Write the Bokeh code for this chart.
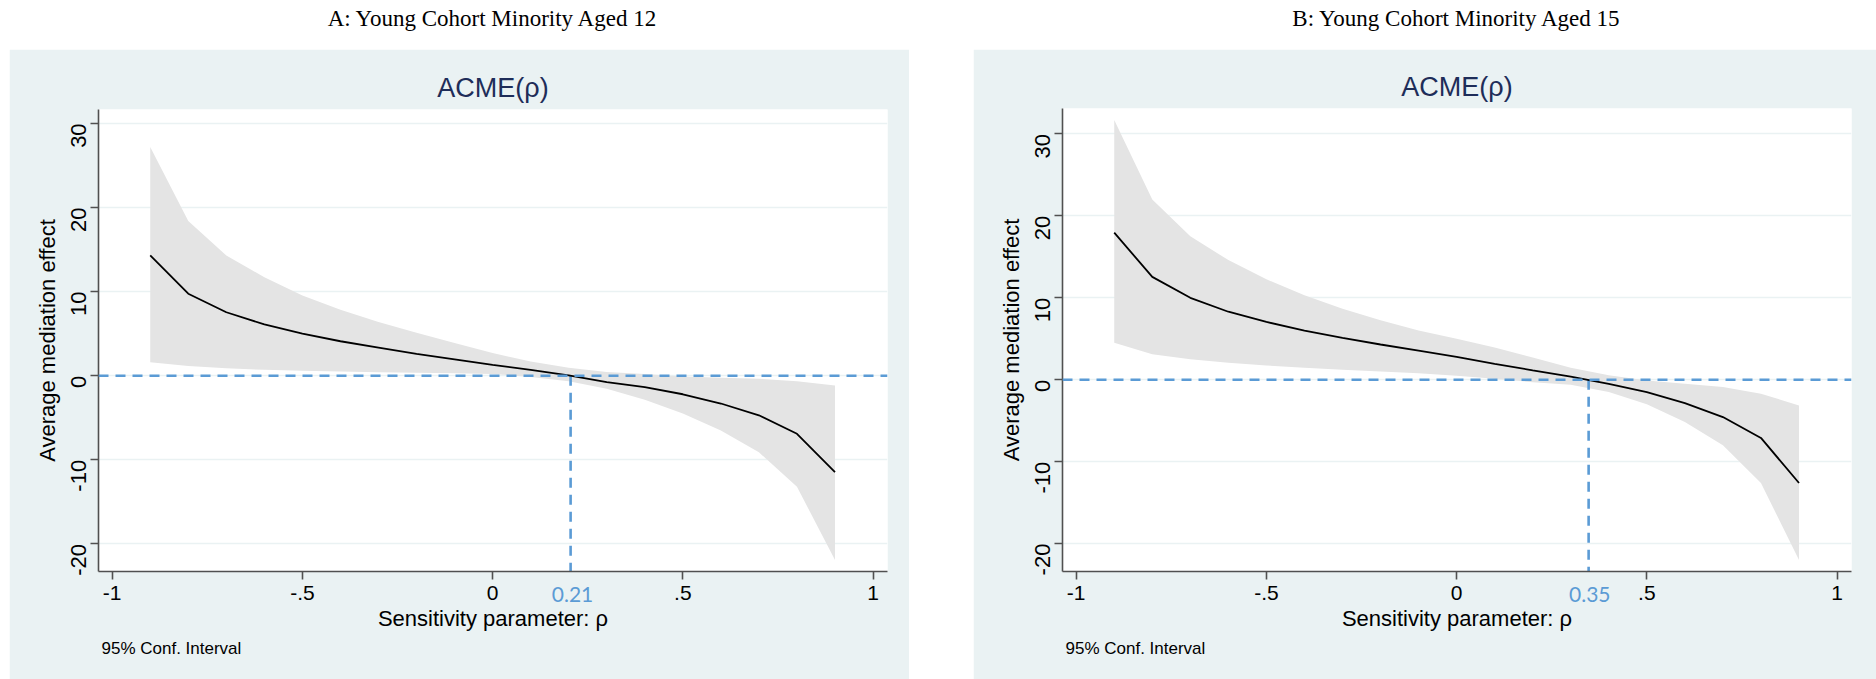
import math
from bokeh.plotting import figure
from bokeh.models import Span, Title, Label, FixedTicker, Range1d, Spacer, CustomJSTickFormatter, LinearAxis
from bokeh.layouts import row, column
from bokeh.embed import file_html
from bokeh.resources import INLINE

# ---------------- data ----------------
rho = [-0.9, -0.8, -0.7, -0.6, -0.5, -0.4, -0.3, -0.2, -0.1, 0.0,
       0.1, 0.2, 0.3, 0.4, 0.5, 0.6, 0.7, 0.8, 0.9]

acme_a = [14.3, 9.75, 7.55, 6.1, 5.0, 4.1, 3.35, 2.6, 1.95, 1.3,
          0.7, 0.05, -0.75, -1.35, -2.2, -3.3, -4.7, -6.9, -11.45]
upper_a = [27.2, 18.4, 14.3, 11.7, 9.55, 7.85, 6.4, 5.1, 3.9, 2.7,
           1.7, 0.95, 0.45, 0.2, -0.08, -0.24, -0.36, -0.64, -1.15]
lower_a = [1.6, 1.15, 0.9, 0.7, 0.6, 0.5, 0.42, 0.35, 0.3, 0.22,
           -0.15, -0.65, -1.55, -2.85, -4.5, -6.5, -9.1, -13.2, -21.9]

acme_b = [17.95, 12.55, 10.0, 8.3, 7.05, 6.0, 5.1, 4.3, 3.55, 2.8,
          1.95, 1.15, 0.37, -0.5, -1.5, -2.85, -4.55, -7.1, -12.6]
upper_b = [31.7, 22.0, 17.5, 14.6, 12.25, 10.3, 8.65, 7.25, 6.0, 5.0,
           3.95, 2.7, 1.45, 0.55, -0.1, -0.5, -0.9, -1.7, -3.15]
lower_b = [4.5, 3.1, 2.5, 2.07, 1.75, 1.46, 1.22, 1.0, 0.8, 0.5,
           0.12, -0.3, -0.62, -1.5, -3.0, -5.15, -8.0, -12.6, -22.0]

cross_a = 0.205
cross_b = 0.347
cross_label_a = "0.21"
cross_label_b = "0.35"

panel_titles = ["A: Young Cohort Minority Aged 12", "B: Young Cohort Minority Aged 15"]
plot_title = "ACME(\u03c1)"
x_title = "Sensitivity parameter: \u03c1"
y_title = "Average mediation effect"
note = "95% Conf. Interval"

x_ticks = [-1, -0.5, 0, 0.5, 1]
y_ticks = [-20, -10, 0, 10, 20, 30]

# ---------------- styles ----------------
BOX = "#EAF2F3"
BAND = "#E4E4E4"
DASH = "#5B9BD5"
AXIS = "#505050"
SANS = "Liberation Sans"
TITLE_H = 49
PANEL_H = 630


def title_fig(text, mbl, fw, mbr, cx):
    t = figure(frame_width=fw, frame_height=TITLE_H, x_range=Range1d(0, fw), y_range=Range1d(0, TITLE_H),
               min_border_left=mbl, min_border_right=mbr, min_border_top=0, min_border_bottom=0,
               x_axis_type=None, y_axis_type=None, toolbar_location=None,
               output_backend="svg", outline_line_color=None,
               background_fill_color="white", border_fill_color="white")
    t.grid.visible = False
    t.add_layout(Label(x=cx, y=31, text=text, text_align="center", text_baseline="alphabetic",
                       text_font="Liberation Serif", text_font_size="23px", text_color="black"))
    return t


def panel(acme, upper, lower, cross, cross_label, yr, mbl, fw, mbr, mbt, fh):
    p = figure(frame_width=fw, frame_height=fh, min_border_left=mbl, min_border_right=mbr,
               min_border_top=mbt, min_border_bottom=PANEL_H - mbt - fh,
               x_range=Range1d(-1.036, 1.038), y_range=Range1d(*yr),
               toolbar_location=None, output_backend="svg",
               background_fill_color="white", border_fill_color=BOX, outline_line_color=None)
    p.title.text = plot_title
    p.title.align = "center"
    p.title.text_font = SANS
    p.title.text_font_style = "normal"
    p.title.text_font_size = "27px"
    p.title.text_color = "#1E2D59"
    p.title.standoff = 13

    p.varea(x=rho, y1=lower, y2=upper, fill_color=BAND, fill_alpha=1.0)
    p.add_layout(Span(location=0, dimension="width", line_color=DASH, line_width=2.6, line_dash="10 7"))
    p.segment(x0=[cross], y0=[0], x1=[cross], y1=[yr[0]], line_color=DASH, line_width=2.6, line_dash="10 7")
    p.line(rho, acme, line_color="black", line_width=1.8)

    fmt = CustomJSTickFormatter(code="var s = String(tick); return s.replace(/^(-?)0\\./, '$1.');")
    for ax in (p.xaxis[0], p.yaxis[0]):
        ax.axis_line_color = AXIS
        ax.axis_line_width = 1.6
        ax.major_tick_line_color = AXIS
        ax.major_tick_line_width = 1.6
        ax.major_tick_out = 8
        ax.major_tick_in = 0
        ax.minor_tick_out = 0
        ax.minor_tick_in = 0
        ax.major_label_text_font = SANS
        ax.major_label_text_font_size = "21px"
        ax.major_label_text_color = "black"
        ax.axis_label_text_font = SANS
        ax.axis_label_text_font_size = "22px"
        ax.axis_label_text_font_style = "normal"
        ax.axis_label_text_color = "black"
        ax.formatter = fmt
    p.xaxis[0].ticker = FixedTicker(ticks=x_ticks)
    p.yaxis[0].ticker = FixedTicker(ticks=y_ticks)
    p.yaxis[0].axis_label = y_title
    p.xaxis[0].major_label_standoff = 6
    p.yaxis[0].major_label_orientation = math.pi / 2
    p.yaxis[0].major_label_text_font_size = "22px"
    p.yaxis[0].major_label_standoff = 12
    p.yaxis[0].axis_label_standoff = 1

    # second bottom axis: carries the crossing value (blue) and the axis title
    ax2 = LinearAxis(ticker=FixedTicker(ticks=[float(cross_label)]),
                     axis_line_color=None, major_tick_line_color=None, minor_tick_line_color=None,
                     major_tick_out=0, major_tick_in=0, minor_tick_out=0, minor_tick_in=0,
                     major_label_standoff=-16, major_label_text_font="Lato",
                     major_label_text_font_size="21px", major_label_text_color=DASH,
                     axis_label=x_title, axis_label_text_font=SANS, axis_label_text_font_size="22px",
                     axis_label_text_font_style="normal", axis_label_text_color="black",
                     axis_label_standoff=1)
    p.add_layout(ax2, "below")

    p.xgrid.visible = False
    p.ygrid.grid_line_color = BOX
    p.ygrid.grid_line_width = 1.5

    p.add_layout(Title(text=note, align="left", offset=3, text_font=SANS, text_font_size="17px",
                       text_font_style="normal", text_color="black", standoff=7), "below")
    return p


# panel A: box 9..909, frame 98..887 ; panel B: box 973..1876, frame 1062..1851
pa = panel(acme_a, upper_a, lower_a, cross_a, cross_label_a, (-23.27, 31.65), 89, 789, 22, 60, 462)
pb = panel(acme_b, upper_b, lower_b, cross_b, cross_label_b, (-23.4, 33.1), 89, 789, 25, 59, 463)

ta = title_fig(panel_titles[0], 89, 789, 22, 394.5)
tb = title_fig(panel_titles[1], 89, 789, 25, 394.5)

layout = row(Spacer(width=9, height=10), column(ta, pa, spacing=0), Spacer(width=64, height=10),
             column(tb, pb, spacing=0), spacing=0)

open("out.html", "w").write(file_html(layout, INLINE))
